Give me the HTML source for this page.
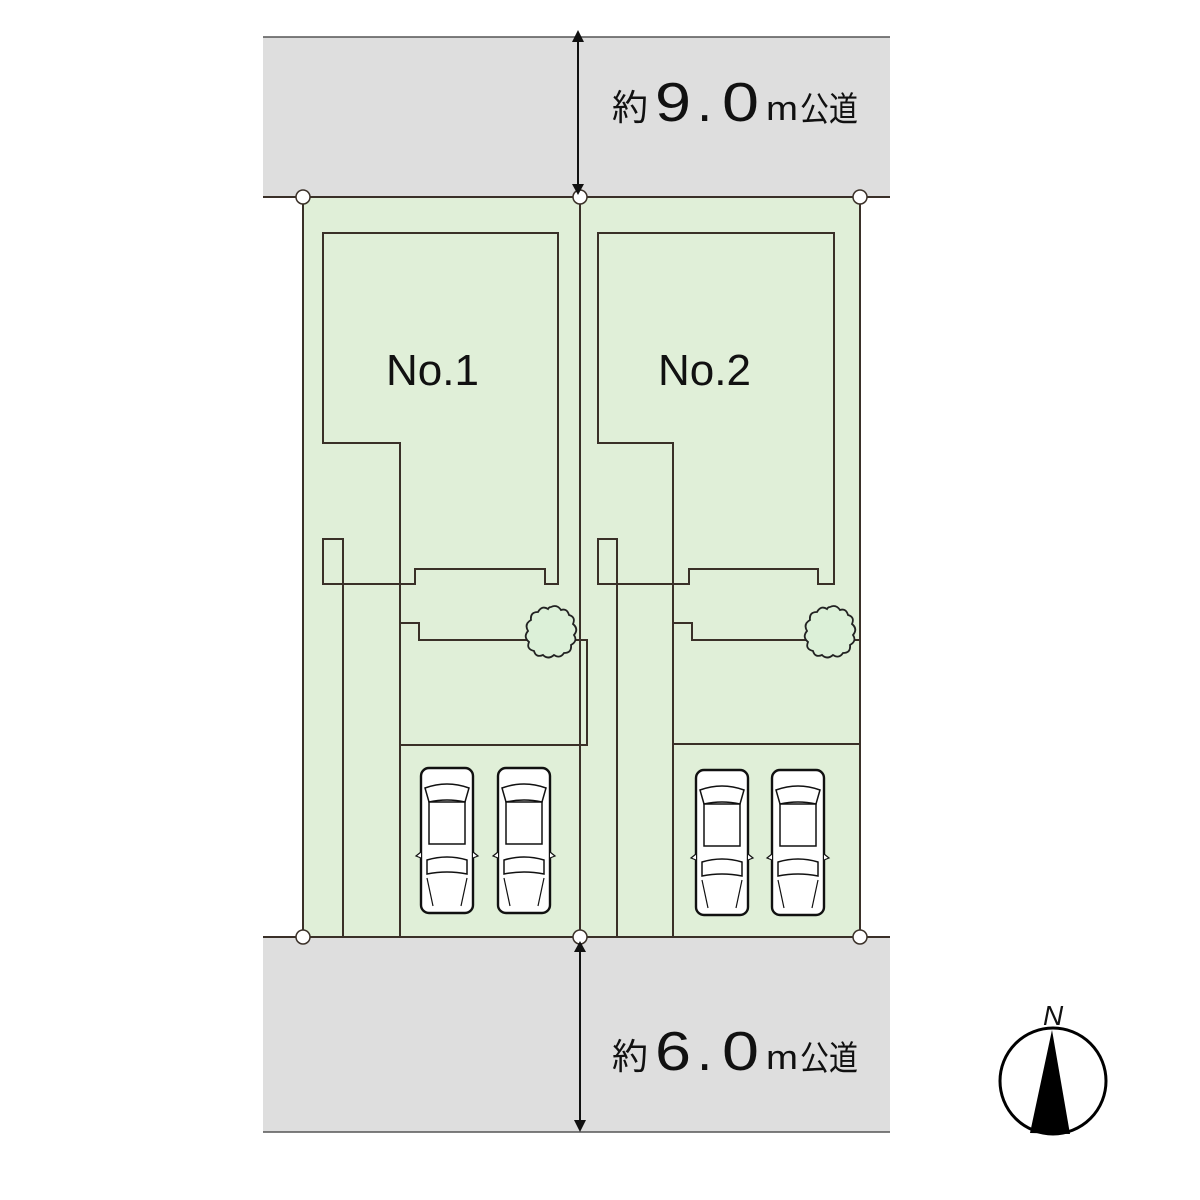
<!DOCTYPE html>
<html><head><meta charset="utf-8"><style>body{margin:0;background:#fff}svg{display:block}</style></head><body>
<svg width="1200" height="1200" viewBox="0 0 1200 1200" xmlns="http://www.w3.org/2000/svg">
<defs>
<g id="car" fill="#fff" stroke="#111" stroke-width="2.4">
<rect x="0" y="0" width="52" height="145" rx="8"/>
<path d="M4 20 Q26 12 48 20 L44 34 Q26 30 8 34 Z" fill="none" stroke-width="1.5"/>
<rect x="8" y="34" width="36" height="42" fill="none" stroke-width="1.5"/>
<path d="M6 92 Q26 86 46 92 L46 106 Q26 102 6 106 Z" fill="none" stroke-width="1.5"/>
<path d="M6 110 L12 138 M46 110 L40 138" fill="none" stroke-width="1.2"/>
<path d="M0 84 L-5 88 L0 90 M52 84 L57 88 L52 90" fill="#fff" stroke-width="1.2"/>
</g>
<path id="tree" d="M0 -25 Q6 -28 10 -22 Q16 -24 18 -17 Q25 -15 22 -8 Q28 -3 23 3 Q27 9 20 13 Q21 21 13 21 Q9 27 3 23 Q-3 28 -8 23 Q-15 26 -17 19 Q-25 17 -22 10 Q-28 5 -23 -1 Q-27 -8 -20 -12 Q-21 -20 -13 -20 Q-9 -27 -3 -23 Q-2 -25 0 -25 Z" fill="#dcf0d8" stroke="#222" stroke-width="1.8"/>
</defs>
<rect x="263" y="37" width="627" height="160" fill="#dedede"/>
<rect x="263" y="937" width="627" height="195" fill="#dedede"/>
<line x1="263" y1="37" x2="890" y2="37" stroke="#555" stroke-width="1.5"/>
<line x1="263" y1="1132" x2="890" y2="1132" stroke="#555" stroke-width="1.5"/>
<rect x="303" y="197" width="557" height="740" fill="#e0efd8"/>
<g fill="none" stroke="#3a3028" stroke-width="2">
<line x1="263" y1="197" x2="890" y2="197"/>
<line x1="263" y1="937" x2="890" y2="937"/>
<line x1="303" y1="197" x2="303" y2="937"/>
<line x1="860" y1="197" x2="860" y2="937"/>
<line x1="580" y1="197" x2="580" y2="937"/>
<path d="M400 937 L400 443 L323 443 L323 233 L558 233 L558 584 L545 584 L545 569 L415 569 L415 584 L323 584 L323 539 L343 539 L343 937"/>
<path d="M400 623 L419 623 L419 640 L528 640 M575 640 L587 640 L587 745 L400 745"/>
<path d="M673 937 L673 443 L598 443 L598 233 L834 233 L834 584 L818 584 L818 569 L689 569 L689 584 L598 584 L598 539 L617 539 L617 937"/>
<path d="M673 623 L692 623 L692 640 L806 640 M853 640 L860 640 M673 744 L860 744"/>
</g>
<use href="#tree" x="551" y="632"/>
<use href="#tree" x="830" y="632"/>
<use href="#car" x="421" y="768"/>
<use href="#car" x="498" y="768"/>
<use href="#car" x="696" y="770"/>
<use href="#car" x="772" y="770"/>
<g fill="#fff" stroke="#3a3028" stroke-width="1.5">
<circle cx="303" cy="197" r="7"/><circle cx="580" cy="197" r="7"/><circle cx="860" cy="197" r="7"/>
<circle cx="303" cy="937" r="7"/><circle cx="580" cy="937" r="7"/><circle cx="860" cy="937" r="7"/>
</g>
<g stroke="#111" stroke-width="2" fill="#111">
<line x1="578" y1="40" x2="578" y2="186"/>
<path d="M572 42 L578 30 L584 42 Z M572 184 L578 195 L584 184 Z" stroke="none"/>
<line x1="580" y1="950" x2="580" y2="1122"/>
<path d="M574 952 L580 941 L586 952 Z M574 1120 L580 1132 L586 1120 Z" stroke="none"/>
</g>
<g font-family="Liberation Sans, sans-serif" fill="#111">
<text x="386" y="385" font-size="44">No.1</text>
<text x="658" y="385" font-size="44">No.2</text>
<text x="612" y="120" font-size="36" font-family="Noto Sans CJK JP, sans-serif">約</text>
<text x="655" y="121" font-size="55" textLength="36" lengthAdjust="spacingAndGlyphs">9</text>
<text x="697" y="121" font-size="55">.</text>
<text x="722" y="121" font-size="55" textLength="37" lengthAdjust="spacingAndGlyphs">0</text>
<text x="766" y="120" font-size="34" textLength="32" lengthAdjust="spacingAndGlyphs">m</text>
<text x="800" y="121" font-size="34" textLength="58" lengthAdjust="spacingAndGlyphs" font-family="Noto Sans CJK JP, sans-serif">公道</text>
<text x="612" y="1069" font-size="36" font-family="Noto Sans CJK JP, sans-serif">約</text>
<text x="655" y="1070" font-size="55" textLength="36" lengthAdjust="spacingAndGlyphs">6</text>
<text x="697" y="1070" font-size="55">.</text>
<text x="722" y="1070" font-size="55" textLength="37" lengthAdjust="spacingAndGlyphs">0</text>
<text x="766" y="1069" font-size="34" textLength="32" lengthAdjust="spacingAndGlyphs">m</text>
<text x="800" y="1070" font-size="34" textLength="58" lengthAdjust="spacingAndGlyphs" font-family="Noto Sans CJK JP, sans-serif">公道</text>
<text x="1043" y="1025" font-size="28" font-style="italic">N</text>
</g>
<circle cx="1053" cy="1081" r="53" fill="none" stroke="#000" stroke-width="3"/>
<path d="M1052 1030 L1070 1134 L1030 1133 Z" fill="#000"/>
</svg>
</body></html>
